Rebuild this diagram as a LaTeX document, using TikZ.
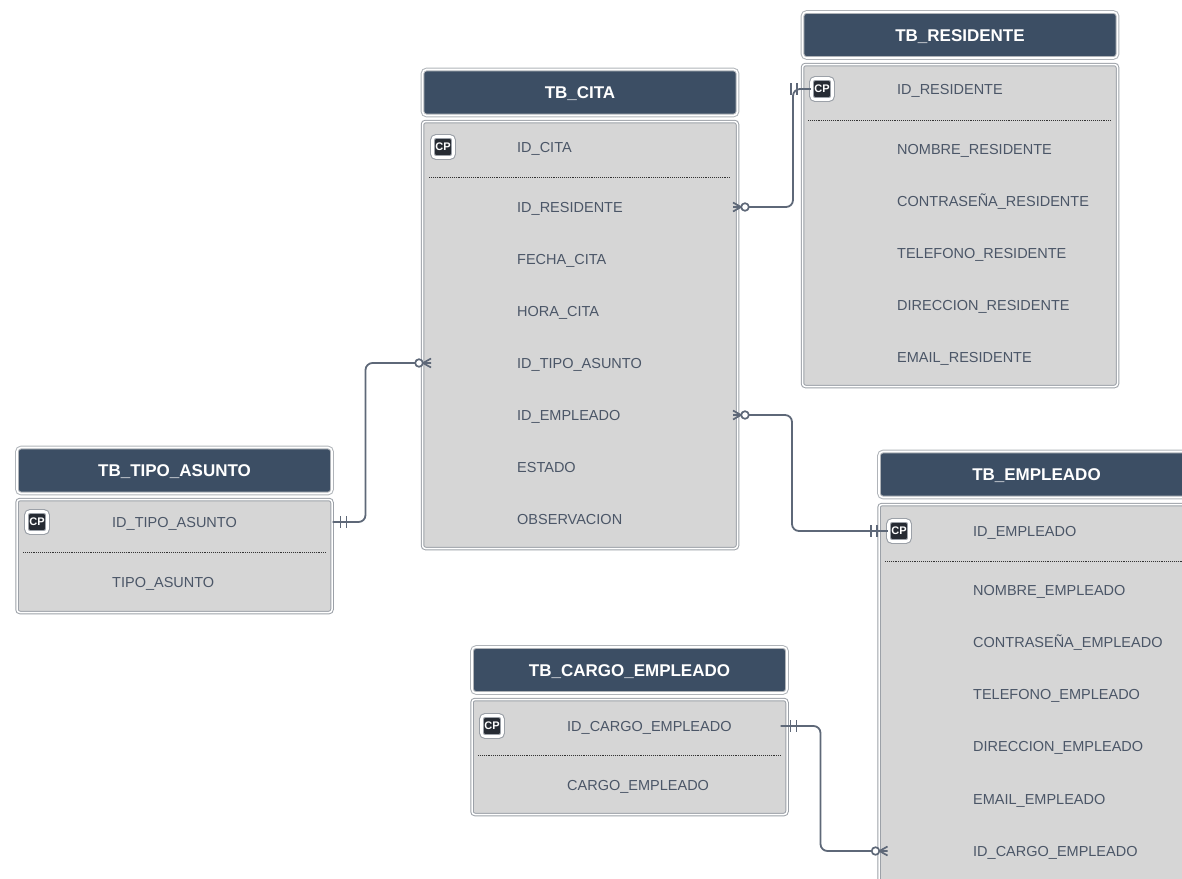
\documentclass[tikz,border=0pt]{standalone}
\usepackage{fontspec}
\setmainfont{Liberation Sans}
\usetikzlibrary{positioning}

\definecolor{headBlue}{HTML}{3C4E64}
\definecolor{bodyGray}{HTML}{D6D6D6}
\definecolor{rimGray}{HTML}{9CA1A8}
\definecolor{fieldText}{HTML}{4B5667}
\definecolor{keyDark}{HTML}{262B33}
\definecolor{linkGray}{HTML}{5E6878}

\tikzset{
  tblHead/.style={draw=rimGray!80, double=white, double distance=1.6pt, line width=1pt,
    fill=headBlue, rounded corners=4pt, minimum width=315pt, minimum height=46pt,
    text=white, text height=12.5pt, text depth=0pt, font=\fontsize{17}{20}\selectfont\bfseries},
  tblBody/.style={draw=rimGray, double=white, double distance=1.5pt, line width=1pt,
    fill=bodyGray, rounded corners=3pt, minimum width=315pt, anchor=north},
  field/.style={anchor=west, inner sep=0pt, text=fieldText, text height=10.5pt, text depth=0pt,
    font=\fontsize{14.5}{17}\selectfont},
  pKey/.style={draw=rimGray, double=white, double distance=2.6pt, line width=1.1pt,
    fill=keyDark, rounded corners=3.5pt, minimum size=21pt, inner sep=0pt,
    text=white, font=\fontsize{11}{11}\selectfont\bfseries},
  sepLine/.style={densely dotted, line width=0.9pt, black!80},
  link/.style={linkGray, line width=1.8pt, rounded corners=7pt},
  pics/manyOpt/.style={code={
    \draw[linkGray, line width=1.7pt] (0,-4.5)--(-8,0)--(0,4.5) (0,0)--(-8,0);
    \draw[linkGray, line width=1.7pt, fill=white] (-12,0) circle (3.8pt);}},
  pics/oneOnly/.style={code={
    \draw[linkGray, line width=1.7pt] (-3,-6)--(-3,6) (3,-6)--(3,6);}},
}

\begin{document}
\begin{tikzpicture}[x=1pt,y=-1pt]
\useasboundingbox (0,0) rectangle (1182,878);
%
% TB_CITA
\node[tblHead] (citaHead) at (580,92.5) {TB\_CITA};
\node[tblBody, minimum height=427pt] (citaBody) at (580,121) {};
\node[pKey] (citaKey) at (443,147) {CP};
\node[field] (citaIdCita) at (517,147) {ID\_CITA};
\draw[sepLine] (429,177) -- (731,177);
\foreach \nm/\txt [count=\i from 0] in {IdResidente/ID\_RESIDENTE, FechaCita/FECHA\_CITA,
    HoraCita/HORA\_CITA, IdTipoAsunto/ID\_TIPO\_ASUNTO, IdEmpleado/ID\_EMPLEADO,
    Estado/ESTADO, Observacion/OBSERVACION}
  \node[field] (cita\nm) at (517,207+52*\i) {\txt};
%
% TB_RESIDENTE
\node[tblHead] (resHead) at (960,35) {TB\_RESIDENTE};
\node[tblBody, minimum height=322pt] (resBody) at (960,64) {};
\node[pKey] (resKey) at (822,89) {CP};
\node[field] (resIdResidente) at (897,89) {ID\_RESIDENTE};
\draw[sepLine] (808,120) -- (1111,120);
\foreach \nm/\txt [count=\i from 0] in {Nombre/NOMBRE\_RESIDENTE, Clave/CONTRASEÑA\_RESIDENTE,
    Telefono/TELEFONO\_RESIDENTE, Direccion/DIRECCION\_RESIDENTE, Email/EMAIL\_RESIDENTE}
  \node[field] (res\nm) at (897,149+52*\i) {\txt};
%
% TB_TIPO_ASUNTO
\node[tblHead] (tipoHead) at (174.5,470.5) {TB\_TIPO\_ASUNTO};
\node[tblBody, minimum height=113pt] (tipoBody) at (174.5,499) {};
\node[pKey] (tipoKey) at (37,522) {CP};
\node[field] (tipoIdTipoAsunto) at (112,522) {ID\_TIPO\_ASUNTO};
\draw[sepLine] (23,552) -- (326,552);
\node[field] (tipoTipoAsunto) at (112,582) {TIPO\_ASUNTO};
%
% TB_EMPLEADO
\node[tblHead] (empHead) at (1036.5,474.5) {TB\_EMPLEADO};
\node[tblBody, minimum height=384pt] (empBody) at (1036.5,504) {};
\node[pKey] (empKey) at (899,531) {CP};
\node[field] (empIdEmpleado) at (973,531) {ID\_EMPLEADO};
\draw[sepLine] (885,561) -- (1188,561);
\foreach \nm/\txt [count=\i from 0] in {Nombre/NOMBRE\_EMPLEADO, Clave/CONTRASEÑA\_EMPLEADO,
    Telefono/TELEFONO\_EMPLEADO, Direccion/DIRECCION\_EMPLEADO, Email/EMAIL\_EMPLEADO,
    IdCargo/ID\_CARGO\_EMPLEADO}
  \node[field] (emp\nm) at (973,590+52.2*\i) {\txt};
%
% TB_CARGO_EMPLEADO
\node[tblHead] (cargoHead) at (629.5,670) {TB\_CARGO\_EMPLEADO};
\node[tblBody, minimum height=115pt] (cargoBody) at (629.5,699) {};
\node[pKey] (cargoKey) at (492,726) {CP};
\node[field] (cargoIdCargo) at (567,726) {ID\_CARGO\_EMPLEADO};
\draw[sepLine] (478,755) -- (781,755);
\node[field] (cargoCargo) at (567,785) {CARGO\_EMPLEADO};
%
% relations
\draw[link] (citaBody.east |- citaIdResidente) -- ++(55,0) |- (resKey.west);
\pic[rotate=180] at ([xshift=-5pt]citaBody.east |- citaIdResidente) {manyOpt};
\pic at ([xshift=-17pt]resKey.west) {oneOnly};
%
\draw[link] (tipoBody.east |- tipoIdTipoAsunto) -- ++(33,0) |- (citaBody.west |- citaIdTipoAsunto);
\pic at ([xshift=11pt]tipoBody.east |- tipoIdTipoAsunto) {oneOnly};
\pic at ([xshift=9pt]citaBody.west |- citaIdTipoAsunto) {manyOpt};
%
\draw[link] (citaBody.east |- citaIdEmpleado) -- ++(54,0) |- (empKey.west);
\pic[rotate=180] at ([xshift=-5pt]citaBody.east |- citaIdEmpleado) {manyOpt};
\pic at ([xshift=-14pt]empKey.west) {oneOnly};
%
\draw[link] ([xshift=-7pt]cargoBody.east |- cargoIdCargo) -- ++(40,0) |- (empBody.west |- empIdCargo);
\pic at ([xshift=6pt]cargoBody.east |- cargoIdCargo) {oneOnly};
\pic at ([xshift=9pt]empBody.west |- empIdCargo) {manyOpt};
\end{tikzpicture}
\end{document}
